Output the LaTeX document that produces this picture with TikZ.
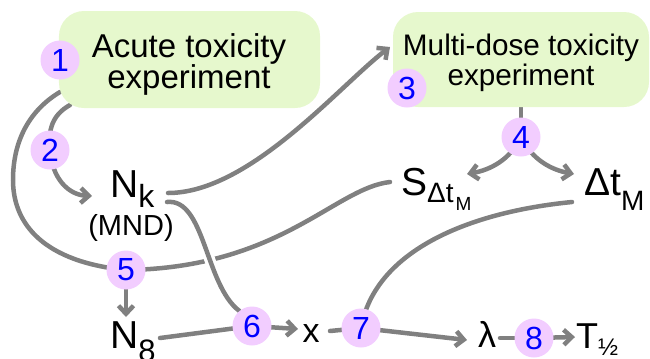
\documentclass[tikz,border=0pt]{standalone}
\usepackage{fontspec}
\setmainfont{Liberation Sans}
\usetikzlibrary{arrows.meta,backgrounds}
\definecolor{boxgreen}{RGB}{230,248,205}
\definecolor{numpink}{RGB}{242,205,255}
\definecolor{linegray}{RGB}{128,128,128}
\newcommand\myfs[2]{\fontsize{#1bp}{#2bp}\selectfont}
\begin{document}
\begin{tikzpicture}[x=1bp,y=-1bp,
  gbox/.style={rectangle, rounded corners=25bp, fill=boxgreen, inner sep=0pt},
  gtext/.style={inner sep=0pt, align=center},
  num/.style={circle, fill=numpink, minimum size=39bp, inner sep=0pt, text=blue, font=\myfs{32}{32}},
  lab/.style={inner sep=0pt, font=\myfs{39}{39}},
  conn/.style={draw=linegray, line width=4.5bp, line cap=round},
  arr/.style={conn, -{Straight Barb[length=8bp,width=15bp]}}]
\useasboundingbox (0,0) rectangle (650,358);
% boxes
\node[gbox, minimum width=261bp, minimum height=97bp] (box1) at (189.5,59.5) {};
\node[gtext, font=\myfs{33}{31}] (t1) at (189,64.2) {Acute toxicity\\experiment};
\node[gbox, minimum width=256bp, minimum height=95bp] (box2) at (521,59.5) {};
\node[gtext, font=\myfs{29.7}{30}] (t2) at (521,62.4) {Multi-dose toxicity\\experiment};
% numbered circles
\node[num] (c1) at (60,60) {1};
\node[num] (c2) at (50,150) {2};
\node[num] (c3) at (407,88) {3};
\node[num] (c4) at (521,137) {4};
\node[num] (c5) at (126,270) {5};
\node[num] (c6) at (252,326) {6};
\node[num] (c7) at (361,328) {7};
\node[num] (c8) at (534,338) {8};
% labels
\node[lab, anchor=base west] (nk) at (110,197) {N\raisebox{-10bp}{\myfs{32}{32}k}};
\node[lab, anchor=base, font=\myfs{29}{29}] (mnd) at (131,235) {(MND)};
\node[lab, anchor=base west] (s) at (401,195) {S\raisebox{-7bp}{\myfs{28}{28}Δt\hspace{2bp}\raisebox{-8bp}{\myfs{19}{19}M}}};
\node[lab, anchor=base west] (dt) at (584,195) {Δt\raisebox{-15bp}{\myfs{28}{28}M}};
\node[lab, anchor=base west] (n8) at (110,348) {N\raisebox{-13bp}{\myfs{31}{31}8}};
\node[lab, anchor=base, font=\myfs{34}{34}] (x) at (311,342) {x};
\node[lab, anchor=base, font=\myfs{36}{36}] (lam) at (487,347) {λ};
\node[lab, anchor=base west, font=\myfs{36}{36}] (th) at (576,348) {T\raisebox{-7bp}{\myfs{24}{24}½}};
% connector end points
\coordinate (a0) at (60,92);
\coordinate (b0) at (70,105);
\coordinate (b1) at (92,196);
\coordinate (cc0) at (168,193);
\coordinate (cc1) at (390,47);
\coordinate (d0) at (167,202);
\coordinate (e0) at (390,182);
\coordinate (f0) at (572,202);
\coordinate (g1) at (467,174);
\coordinate (g2) at (574,174);
\coordinate (h1) at (126,317);
\coordinate (i0) at (160,338);
\coordinate (i1) at (298,329);
\coordinate (j0) at (330,331);
\coordinate (j1) at (467,340);
\coordinate (k0) at (500,338);
\coordinate (k1) at (575,337);
\begin{pgfonlayer}{background}
\draw[conn] (a0) .. controls (30,110) and (13,140) .. (13,180) .. controls (13,225) and (45,262) .. (c5.center);
\draw[arr] (b0) .. controls (52,115) and (48,130) .. (c2.center) .. controls (52,178) and (68,195) .. (b1);
\draw[arr] (cc0) .. controls (250,193) and (340,85) .. (cc1);
\draw[conn] (e0) .. controls (335,188) and (280,268) .. (c5.center);
\draw[conn, preaction={draw=white, line width=11bp}] (d0) .. controls (205,198) and (205,285) .. (c6.130);
\draw[conn] (f0) .. controls (470,212) and (375,250) .. (c7.center);
\draw[conn] (box2.south) -- (c4.center);
\draw[arr] (c4.center) .. controls (510,160) and (490,170) .. (g1);
\draw[arr] (c4.center) .. controls (532,160) and (552,170) .. (g2);
\draw[arr] (c5.center) -- (h1);
\draw[conn] (i0) -- (c6.center);
\draw[arr] (c6.center) -- (i1);
\draw[conn] (j0) -- (c7.center);
\draw[arr] (c7.center) -- (j1);
\draw[conn] (k0) -- (c8.center);
\draw[arr] (c8.center) -- (k1);
\end{pgfonlayer}
\end{tikzpicture}
\end{document}
